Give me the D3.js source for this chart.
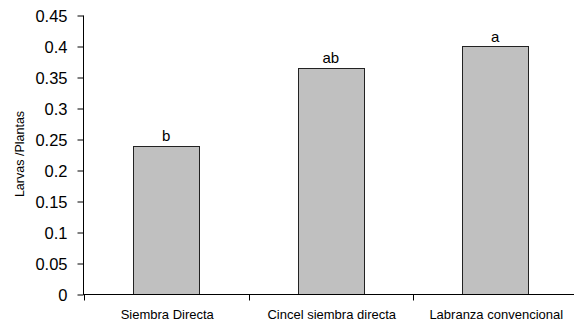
<!DOCTYPE html>
<html>
<head>
<meta charset="utf-8">
<script src="https://cdn.jsdelivr.net/npm/d3@7/dist/d3.min.js"></script>
<style>
  html, body { margin: 0; padding: 0; background: #fff; }
  svg { display: block; }
  text { font-family: "Liberation Sans", Arial, sans-serif; fill: #000; }
</style>
</head>
<body>
<svg id="chart" width="574" height="323"></svg>
<script>
const categories = ["Siembra Directa", "Cincel siembra directa", "Labranza convencional"];
const values = [0.24, 0.365, 0.40];
const letters = ["b", "ab", "a"];
const yTicks = [0, 0.05, 0.1, 0.15, 0.2, 0.25, 0.3, 0.35, 0.4, 0.45];
const yTickLabels = ["0", "0.05", "0.1", "0.15", "0.2", "0.25", "0.3", "0.35", "0.4", "0.45"];
const yTitle = "Larvas /Plantas";

const svg = d3.select("#chart");
const mLeft = 83.5, mRight = 577.5, mTop = 15.5, mBottom = 294.5;

const x = d3.scaleBand().domain(categories).range([84, mRight]).paddingInner(0).paddingOuter(0);
const y = d3.scaleLinear().domain([0, 0.45]).range([mBottom, mTop]);

// bars
const barFrac = 0.4;
svg.append("g").selectAll("rect").data(categories).join("rect")
  .attr("x", (d) => Math.round(x(d) + x.bandwidth() * (1 - barFrac) / 2) + 0.5)
  .attr("y", (d, i) => Math.round(y(values[i])) + 0.5)
  .attr("width", Math.round(x.bandwidth() * barFrac))
  .attr("height", (d, i) => mBottom - (Math.round(y(values[i])) + 0.5))
  .attr("fill", "#c0c0c0")
  .attr("stroke", "#222")
  .attr("stroke-width", 1);

// letters
svg.append("g").selectAll("text").data(categories).join("text")
  .attr("x", (d) => x(d) + x.bandwidth() / 2)
  .attr("y", (d, i) => y(values[i]) - 5)
  .attr("text-anchor", "middle")
  .style("font-size", "15px")
  .text((d, i) => letters[i]);

// y axis
const yAxis = d3.axisLeft(y).tickValues(yTicks)
  .tickFormat((d, i) => yTickLabels[i]).tickSize(6).tickPadding(10);
const gy = svg.append("g").attr("transform", `translate(${mLeft},0)`).call(yAxis);
gy.select(".domain").attr("d", `M0,${mTop}V${mBottom + 0.5}`).attr("stroke", "#000");
gy.selectAll(".tick line").attr("stroke", "#000");
gy.selectAll(".tick text").style("font-size", "16.5px").attr("font-family", null)
  .attr("dy", "0.36em");

// x axis
const xAxis = d3.axisBottom(x).tickSize(0).tickFormat("");
const gx = svg.append("g").attr("transform", `translate(0,${mBottom})`).call(xAxis);
gx.select(".domain").attr("d", `M${mLeft},0H${mRight}`).attr("stroke", "#000");
gx.selectAll(".tick").remove();
// boundary ticks
const bounds = categories.map((c) => x(c)).concat([x(categories[categories.length - 1]) + x.bandwidth()]);
gx.selectAll("line.bt").data(bounds).join("line").attr("class", "bt")
  .attr("x1", (d) => Math.round(d) + 0.5).attr("x2", (d) => Math.round(d) + 0.5)
  .attr("y1", 0).attr("y2", 6).attr("stroke", "#000");
// category labels
svg.append("g").selectAll("text").data(categories).join("text")
  .attr("x", (d) => x(d) + x.bandwidth() / 2 + 1)
  .attr("y", 319)
  .attr("text-anchor", "middle")
  .style("font-size", "13px")
  .text((d) => d);

// y title
svg.append("text")
  .attr("transform", `translate(24,154) rotate(-90)`)
  .attr("text-anchor", "middle")
  .style("font-size", "12.5px")
  .text(yTitle);
</script>
</body>
</html>
